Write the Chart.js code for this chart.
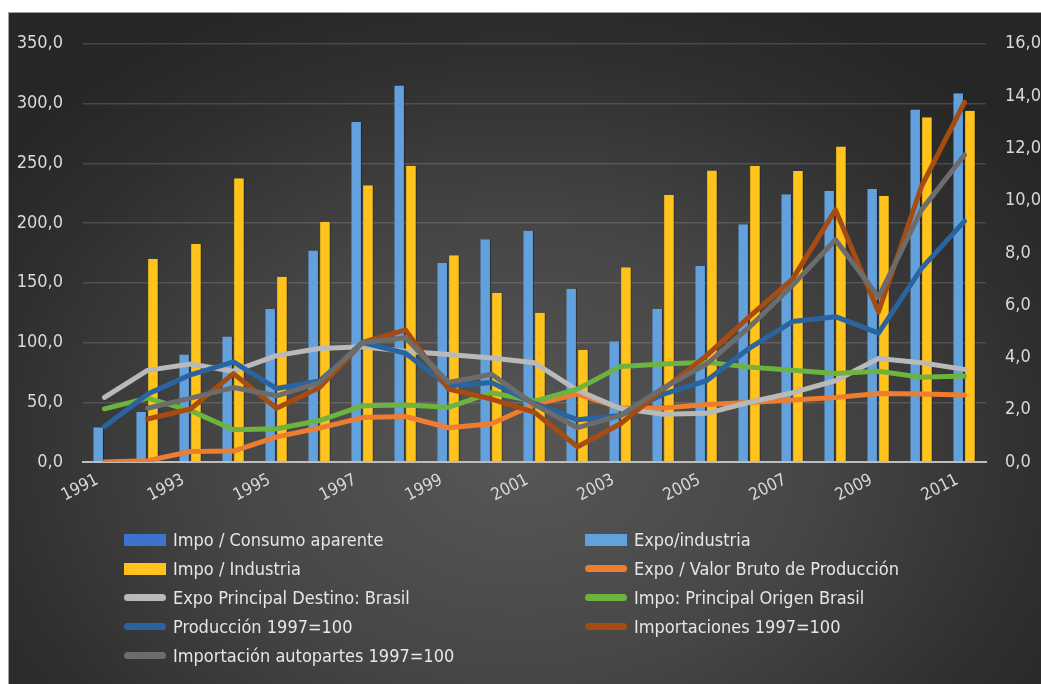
<!DOCTYPE html>
<html lang="es">
<head>
<meta charset="utf-8">
<title>Indicadores autopartes 1991-2011</title>
<script src="https://cdn.jsdelivr.net/npm/chart.js@4.4.1/dist/chart.umd.min.js"></script>
<style>
  html, body { margin: 0; padding: 0; background: #fff; overflow: hidden; }
  body { width: 1041px; height: 684px; position: relative; }
  #panel {
    position: absolute; left: 8px; top: 12px; width: 1060px; height: 690px;
    border-top: 1px solid #a0a0a0; border-left: 1px solid #a0a0a0;
    background: radial-gradient(ellipse 62% 72% at 48% 64%, #575757 0%, #464646 45%, #2f2f2f 80%, #262626 100%);
  }
  #chartBox { position: absolute; left: 0; top: 0; width: 1045px; height: 671px; }
  #legend {
    position: absolute; left: 115px; top: 512px;
    display: grid; grid-template-columns: 461px auto; grid-auto-rows: 29px;
    font-family: 'DejaVu Sans Condensed', 'Liberation Sans Narrow', sans-serif;
    font-size: 18px; color: #e6e6e6;
  }
  .item { display: flex; align-items: center; white-space: nowrap; }
  .sw { width: 42px; margin-right: 7px; flex: none; }
  .sw.bar { height: 12px; }
  .sw.line { height: 7px; border-radius: 4px; }
</style>
</head>
<body>
<div id="panel">
  <div id="chartBox"><canvas id="chartMain"></canvas></div>
  <div id="legend"></div>
</div>
<script>
const years = ["1991","1992","1993","1994","1995","1996","1997","1998","1999","2000",
               "2001","2002","2003","2004","2005","2006","2007","2008","2009","2010","2011"];

// barras (eje izquierdo)
const impoConsumo = [];
const expoIndustria = [29, 42, 90, 105, 128, 177, 284.6, 315, 166.5, 186.5, 193.6, 145, 101, 128, 164, 199, 224, 227, 228.5, 295, 308.6];
const impoIndustria = [null, 170, 182.5, 237.5, 155, 201, 231.7, 248, 173, 141.5, 125, 94, 163, 223.5, 244, 248, 243.5, 264, 222.7, 288.6, 294];

// lineas
const expoVbp = [0, 0.05, 0.4, 0.42, 0.96, 1.3, 1.7, 1.74, 1.31, 1.46, 2.2, 2.6, 2.07, 2.07, 2.2, 2.28, 2.37, 2.47, 2.62, 2.6, 2.56]; // eje derecho
const expoDestinoBrasil = [54, 76.7, 82, 76, 89, 95, 96.5, 92.7, 90, 87, 83, 60, 44.7, 40, 40.7, 50, 58, 68, 86.6, 83, 77.5];
const impoOrigenBrasil = [44.4, 53.5, 43, 27, 27.8, 34.7, 47, 47.7, 45.8, 58, 51, 61, 80, 82, 83.5, 79.4, 76.7, 74, 76, 71, 72];
const produccion = [29.8, 56.8, 73, 83.8, 61.5, 67.8, 100, 91, 63.7, 66.5, 49, 35.3, 38.9, 56.8, 68, 95.4, 117.5, 121.6, 107.8, 162, 201.6];
const importaciones = [null, 36, 44.4, 74, 45, 62.3, 100, 110.6, 61, 52.7, 41.5, 12.7, 32, 61, 89, 121.6, 153, 211, 125.8, 230.6, 301];
const autopartes = [null, 45, 53.5, 62.3, 55.4, 66.5, 100, 104, 66.5, 73.4, 48, 28.7, 39, 62, 82, 113, 147.8, 186, 138, 211, 257];

const leftTicks = { min: 0, max: 350, step: 50 };
const rightTicks = { min: 0, max: 16, step: 2 };

const FONT = "'DejaVu Sans Condensed', 'Liberation Sans Narrow', sans-serif";
const TXT = "#d9d9d9";
const fmtComma = (v) => Number(v).toFixed(1).replace(".", ",");

const el = (id) => document.getElementById(id);

const lineSet = (label, data, color, order, axis = "y") => ({
    type: "line",
    label,
    data,
    yAxisID: axis,
    borderColor: color,
    backgroundColor: color,
    borderWidth: 5,
    borderCapStyle: "round",
    borderJoinStyle: "round",
    pointRadius: 0,
    tension: 0,
    order,
});

const barSet = (label, data, color, extra = {}) => ({
    type: "bar",
    label,
    data,
    yAxisID: "y",
    backgroundColor: color,
    borderColor: "rgba(15,15,15,0.45)",
    borderWidth: { top: 0, left: 0, right: 1, bottom: 0 },
    borderSkipped: false,
    barPercentage: 0.9,
    categoryPercentage: 0.55,
    order: 10,
    ...extra,
});

const datasets = [
    barSet("Impo / Consumo aparente", impoConsumo, "#3f72cc", { grouped: false, yAxisID: "y1" }),
    barSet("Expo/industria", expoIndustria, "#62a1dc"),
    barSet("Impo / Industria", impoIndustria, "#ffc31c"),
    lineSet("Expo / Valor Bruto de Producción", expoVbp, "#ed7d31", 6, "y1"),
    lineSet("Expo Principal Destino: Brasil", expoDestinoBrasil, "#b9b9b9", 5),
    lineSet("Impo: Principal Origen Brasil", impoOrigenBrasil, "#6db33f", 4),
    lineSet("Producción 1997=100", produccion, "#2a64a0", 3),
    lineSet("Importaciones 1997=100", importaciones, "#a64b12", 2),
    lineSet("Importación autopartes 1997=100", autopartes, "#6c6c6c", 1),
];

const chart = new Chart(el("chartMain").getContext("2d"), {
    type: "bar",
    data: { labels: years, datasets },
    options: {
        responsive: true,
        maintainAspectRatio: false,
        animation: false,
        layout: { padding: { top: 26, left: 0, right: 0, bottom: 0 } },
        plugins: { legend: { display: false }, tooltip: { enabled: false } },
        scales: {
            x: {
                grid: { display: false },
                border: { display: true, color: "#bdbdbd", width: 2 },
                ticks: {
                    color: TXT,
                    font: { family: FONT, size: 17 },
                    autoSkip: false,
                    minRotation: 27,
                    maxRotation: 27,
                    padding: 0,
                    labelOffset: -7,
                    callback: (v, i) => (i % 2 === 0 ? years[i] : ""),
                },
                afterFit: (s) => { s.height = 222; },
            },
            y: {
                position: "left",
                min: leftTicks.min,
                max: leftTicks.max,
                border: { display: false },
                grid: {
                    drawTicks: false,
                    color: (c) => (c.tick.value === 0 ? "#bdbdbd" : "rgba(255,255,255,0.14)"),
                    lineWidth: (c) => (c.tick.value === 0 ? 2 : 1.5),
                },
                ticks: {
                    stepSize: leftTicks.step,
                    color: TXT,
                    font: { family: FONT, size: 18 },
                    padding: 20,
                    callback: (v) => fmtComma(v),
                },
                afterFit: (s) => { s.width = 74; },
            },
            y1: {
                position: "right",
                min: rightTicks.min,
                max: rightTicks.max,
                border: { display: false },
                grid: { display: false, drawTicks: false },
                ticks: {
                    stepSize: rightTicks.step,
                    color: TXT,
                    font: { family: FONT, size: 18 },
                    padding: 19,
                    callback: (v) => fmtComma(v),
                },
                afterFit: (s) => { s.width = 68; },
            },
        },
    },
});

// leyenda en dos columnas
function renderLegend(c) {
    const box = el("legend");
    box.innerHTML = c.data.datasets.map((ds) => {
        const kind = ds.type === "line" ? "line" : "bar";
        return `<div class="item"><span class="sw ${kind}" style="background:${ds.backgroundColor}"></span>${ds.label}</div>`;
    }).join("");
}

renderLegend(chart);
</script>
</body>
</html>
